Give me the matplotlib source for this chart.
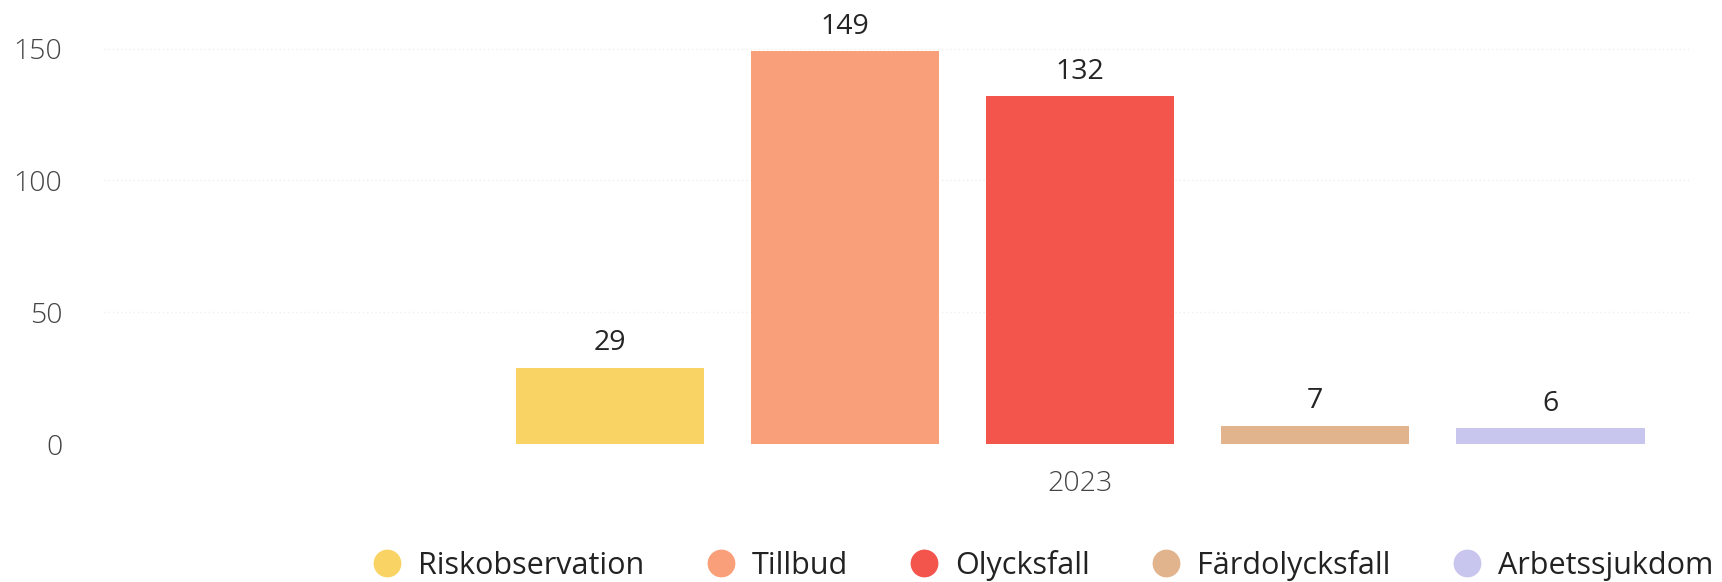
import numpy as np
import matplotlib.pyplot as plt
from matplotlib.lines import Line2D

# Reported cases per type, 2023
years = ["2023"]
series = ["Riskobservation", "Tillbud", "Olycksfall", "Färdolycksfall", "Arbetssjukdom"]
counts = [29, 149, 132, 7, 6]
colors = ["#F9D464", "#F9A07A", "#F3544C", "#E2B48E", "#C8C5EE"]

plt.rcParams["font.family"] = ["Open Sans", "DejaVu Sans"]

fig = plt.figure(figsize=(17.22, 5.82), dpi=100)
ax = fig.add_axes([0.0604, 0.237, 0.922, 0.711])

offsets = np.arange(len(series)) - (len(series) - 1) / 2
for off, val, col in zip(offsets, counts, colors):
    ax.bar(off, val, width=0.8, color=col, zorder=2)
    ax.annotate(f"{val}", (off, val), xytext=(0, 7.5), textcoords="offset points",
                ha="center", va="bottom", fontsize=20.5, color="#252525")

ax.set_xlim(-4.15, 2.6)
ax.set_ylim(0, 157)
ax.set_yticks([0, 50, 100, 150])
ax.set_xticks([0])
ax.set_xticklabels(years)

for s in ax.spines.values():
    s.set_visible(False)
ax.grid(axis="y", color="#efefef", linestyle=(0, (1, 2)), linewidth=1, zorder=0)
ax.tick_params(axis="y", length=0, pad=30, labelsize=20.5, labelcolor="#444444")
ax.tick_params(axis="x", length=0, pad=19, labelsize=20.5, labelcolor="#444444")
for lbl in ax.get_xticklabels() + ax.get_yticklabels():
    lbl.set_fontweight("light")

handles = [Line2D([], [], marker="o", linestyle="none", markersize=19,
                  markerfacecolor=c, markeredgecolor=c) for c in colors]
fig.legend(handles, series, loc="center right", bbox_to_anchor=(0.9948, 0.0285),
           ncol=5, frameon=False, fontsize=22, handletextpad=0.51,
           columnspacing=2.0, handlelength=1.0, borderpad=0, borderaxespad=0,
           labelcolor="#222222")

fig.savefig("out.png", dpi=100, facecolor="white")
